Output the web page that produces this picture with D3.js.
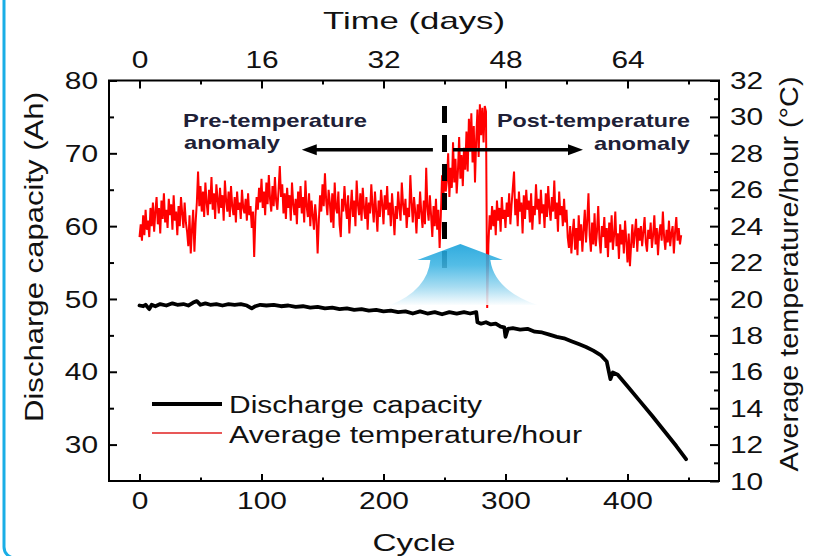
<!DOCTYPE html>
<html><head><meta charset="utf-8">
<script src="https://cdn.jsdelivr.net/npm/d3@7"></script>
<style>
html,body{margin:0;padding:0;background:#fff;}
svg{display:block;font-family:"Liberation Sans",Arial,Helvetica,sans-serif;}
</style></head><body>
<svg id="chart" width="819" height="556"></svg>
<script>
// ---------------- data ----------------
const cycleTicks = [0, 100, 200, 300, 400];
const cycleMinorTicks = [50, 150, 250, 350, 450];
const dayTicks = [0, 16, 32, 48, 64];
const dayMinorTicks = [8, 24, 40, 56, 72];
const capTicks = [30, 40, 50, 60, 70, 80];
const capMinorTicks = [35, 45, 55, 65, 75];
const tempTicks = [10, 12, 14, 16, 18, 20, 22, 24, 26, 28, 30, 32];
const tempMinorTicks = [11, 13, 15, 17, 19, 21, 23, 25, 27, 29, 31];

const capCycles = [0,3,5,8,10,13,17,22,27,31,36,40,44,47,50,54,58,63,68,73,78,83,88,92,95,99,104,110,116,122,128,134,140,146,152,158,164,170,176,182,188,194,200,206,212,218,224,230,236,242,248,254,260,266,271,276,277,280,284,288,292,296,299,300,302,306,312,318,324,330,336,342,348,354,360,366,372,378,383,386,388,392,400,410,420,430,440,448];
const capValues = [49.1,49.0,49.2,48.6,49.2,49.0,49.3,49.1,49.4,49.2,49.3,49.1,49.5,49.7,49.2,49.4,49.2,49.3,49.1,49.3,49.2,49.3,49.1,48.7,49.0,49.2,49.1,49.2,49.0,49.1,48.9,49.0,48.8,48.9,48.7,48.8,48.6,48.7,48.5,48.6,48.4,48.5,48.3,48.4,48.2,48.3,48.0,48.3,48.0,48.2,47.9,48.2,48.0,48.2,48.0,48.2,46.8,46.6,46.8,46.5,46.6,46.2,46.1,44.8,45.9,46.0,45.8,45.9,45.5,45.4,45.1,44.8,44.6,44.2,43.8,43.4,42.9,42.3,41.4,39.0,39.9,39.6,38.0,36.0,34.0,31.9,29.8,28.0];

// average temperature per hour, one reading per cycle from cycle 0 to cycle 444
const tempFirstCycle = 0;
const tempLastCycle = 444;
const tempValues = [
23.4,24.1,23.2,24.6,23.5,24.9,23.8,24.3,23.4,25.0,
24.0,25.3,23.7,24.8,25.6,24.1,25.0,23.6,25.4,24.4,25.8,24.2,24.9,23.9,25.5,24.6,25.2,23.8,25.7,24.3,24.8,23.5,25.1,24.0,25.6,24.7,23.9,25.3,24.2,23.7,
22.9,24.6,22.5,23.8,24.9,22.6,24.2,25.3,
27.0,
25.1,26.2,24.8,25.9,24.5,26.4,25.3,24.6,26.0,25.2,26.7,24.9,25.8,24.4,26.3,25.5,24.7,26.1,25.0,25.7,24.3,26.5,25.4,24.8,25.9,24.5,26.2,25.1,24.6,25.6,24.2,25.9,24.9,25.3,24.4,26.0,25.0,24.7,25.5,24.3,25.8,24.6,25.1,23.9,24.8,
22.3,
24.5,25.6,24.9,26.1,25.3,26.6,25.0,25.9,24.6,26.4,25.2,26.8,25.5,24.8,26.2,25.1,26.7,25.4,24.9,26.0,27.3,25.6,26.3,24.7,25.8,24.4,26.1,25.0,25.7,24.3,26.4,25.2,24.6,25.5,24.1,25.9,
25.0,26.2,24.7,25.6,24.2,26.5,25.1,24.5,25.8,24.0,25.4,24.6,23.8,25.2,24.4,
22.5,
24.3,25.7,24.8,26.3,25.1,26.9,25.4,24.6,26.0,25.3,24.2,25.8,23.9,26.4,25.0,24.7,25.9,24.1,23.4,25.5,
24.8,26.2,25.1,24.4,25.7,23.6,24.9,26.0,24.5,25.4,24.0,26.5,25.2,24.6,25.8,24.3,26.1,25.0,24.4,25.6,
23.8,25.3,24.7,26.3,25.1,24.2,25.9,24.8,23.7,25.4,24.5,26.0,25.2,24.1,25.7,24.9,26.2,24.6,25.3,24.0,
25.8,24.7,23.5,25.1,24.4,25.9,25.0,24.3,26.4,25.2,24.6,25.5,23.9,25.0,24.5,26.8,25.3,24.2,25.6,24.8,
23.6,25.2,24.4,25.9,24.7,23.9,25.4,24.1,27.2,25.0,24.3,25.7,24.6,23.4,25.1,24.0,25.5,23.8,24.9,
22.8,
24.6,26.8,25.3,27.4,25.9,26.5,28.0,25.6,27.2,26.1,28.6,26.4,27.7,25.8,27.0,28.9,26.6,27.9,26.2,28.3,27.1,
29.2,27.0,29.9,28.1,30.2,27.5,29.5,26.4,28.8,30.4,27.8,30.7,29.0,30.5,28.6,30.6,30.3,
19.5,
23.0,24.6,23.8,25.1,24.0,24.9,23.5,25.4,24.3,25.0,23.7,25.6,24.4,24.9,23.9,25.3,24.5,25.8,24.1,25.2,
26.1,27.0,24.6,25.5,24.0,25.9,24.8,25.3,23.6,25.7,24.4,26.0,24.9,25.4,24.2,25.8,23.8,25.1,24.6,26.3,
24.9,25.5,24.1,26.0,24.7,25.2,23.9,25.8,24.5,26.2,25.0,24.3,25.6,24.8,26.5,24.4,25.3,23.7,25.9,24.6,
25.1,24.0,25.5,24.2,24.9,23.4,
22.8,24.0,22.5,23.6,24.4,22.7,23.9,22.4,24.6,23.2,24.1,22.6,23.8,24.9,23.1,24.3,25.8,23.5,22.6,24.2,
23.0,24.7,22.9,23.7,25.1,23.3,22.5,24.0,23.4,24.5,22.8,23.9,22.3,24.2,23.1,24.6,22.7,23.5,24.8,22.9,
23.6,22.2,24.1,23.0,23.8,22.5,24.3,23.2,22.0,23.6,21.8,
23.0,24.1,22.8,23.6,24.4,22.6,23.9,23.2,24.0,22.9,23.7,24.5,23.1,22.6,23.8,23.3,24.2,22.8,23.5,24.6,
23.0,23.9,22.4,23.6,24.1,23.2,24.8,23.4,22.7,23.8,23.1,24.3,22.9,23.6,24.0,22.5,23.7,24.5,23.2,23.9,
23.0,23.5
];

const anomalyCycle = 250;
const legendLabels = ["Discharge capacity", "Average temperature/hour"];

// ---------------- layout ----------------
const svg = d3.select('#chart');
const L = 109, R = 719, T = 80.5, B = 481;
const SX = 1.3; // horizontal glyph stretch of the original figure

const x = d3.scaleLinear().domain([-25, 475]).range([L, R]);
const xd = d3.scaleLinear().domain([-4, 76]).range([L, R]);
const yC = d3.scaleLinear().domain([25, 80]).range([B, T]);
const yT = d3.scaleLinear().domain([10, 32]).range([B, T]);

// outer cyan frame
svg.append('rect').attr('x', 4).attr('y', -40).attr('width', 900).attr('height', 598)
  .attr('rx', 11).attr('fill', 'none').attr('stroke', '#1aaee6').attr('stroke-width', 3);

// data lines
const tempData = tempValues.map((v, i) => ({
  c: tempFirstCycle + i * (tempLastCycle - tempFirstCycle) / (tempValues.length - 1), v }));
svg.append('path').datum(tempData)
  .attr('fill', 'none').attr('stroke', '#ff0000').attr('stroke-width', 2)
  .attr('stroke-linejoin', 'miter')
  .attr('d', d3.line().x(d => x(d.c)).y(d => yT(d.v)));

const capData = capCycles.map((c, i) => ({ c, v: capValues[i] }));
svg.append('path').datum(capData)
  .attr('fill', 'none').attr('stroke', '#000').attr('stroke-width', 3.8)
  .attr('stroke-linejoin', 'round').attr('stroke-linecap', 'round')
  .attr('d', d3.line().x(d => x(d.c)).y(d => yC(d.v)));

// dashed anomaly line
svg.append('line')
  .attr('x1', x(anomalyCycle)).attr('x2', x(anomalyCycle))
  .attr('y1', yT(30.6)).attr('y2', yT(21.3))
  .attr('stroke', '#000').attr('stroke-width', 5).attr('stroke-dasharray', '17 12');

// blue up arrow
const defs = svg.append('defs');
const grad = defs.append('linearGradient').attr('id', 'blueGrad')
  .attr('gradientUnits', 'userSpaceOnUse')
  .attr('x1', 0).attr('x2', 0).attr('y1', 243).attr('y2', 306);
grad.append('stop').attr('offset', 0).attr('stop-color', '#139fd9');
grad.append('stop').attr('offset', 0.35).attr('stop-color', '#3cb4e3');
grad.append('stop').attr('offset', 0.7).attr('stop-color', '#9cd8f0');
grad.append('stop').attr('offset', 1).attr('stop-color', '#ffffff');
const ax = x(263); // arrow centre
const arrowPath = `M${ax} 244 L${ax + 42.5} 260 L${ax + 30} 260 Q${ax + 34} 290 ${ax + 77} 305 `
  + `L${ax - 70} 305 Q${ax - 33} 290 ${ax - 30} 260 L${ax - 43} 260 Z`;
svg.append('path').attr('d', arrowPath).attr('fill', 'url(#blueGrad)').attr('opacity', 0.88);

// frame
svg.append('rect').attr('x', L).attr('y', T).attr('width', R - L).attr('height', B - T)
  .attr('fill', 'none').attr('stroke', '#000').attr('stroke-width', 2);

// axes
function drawAxis(makeGen, scale, tr, major, minor, majLen, minLen, textFn) {
  const gMin = svg.append('g').attr('transform', tr)
    .call(makeGen(scale).tickValues(minor).tickSize(-minLen).tickFormat(''));
  const gMaj = svg.append('g').attr('transform', tr)
    .call(makeGen(scale).tickValues(major).tickSize(-majLen).tickFormat(d3.format('d')));
  [gMin, gMaj].forEach(g => {
    g.select('.domain').remove();
    g.selectAll('.tick line').attr('stroke', '#000').attr('stroke-width', 2);
  });
  const t = gMaj.selectAll('.tick text')
    .attr('font-size', 23).attr('fill', '#111')
    .attr('font-family', '"Liberation Sans",Arial,sans-serif')
    .attr('transform', `scale(${SX},1)`);
  textFn(t);
}
drawAxis(d3.axisBottom, x, `translate(0,${B})`, cycleTicks, cycleMinorTicks, 7, 3.5,
  t => t.attr('y', 28).attr('dy', 0));
drawAxis(d3.axisTop, xd, `translate(0,${T})`, dayTicks, dayMinorTicks, 8, 4,
  t => t.attr('y', -12.5).attr('dy', 0));
drawAxis(d3.axisLeft, yC, `translate(${L},0)`, capTicks, capMinorTicks, 8, 5,
  t => t.attr('x', -11 / SX).attr('dy', '0.35em'));
drawAxis(d3.axisRight, yT, `translate(${R},0)`, tempTicks, tempMinorTicks, 9, 5,
  t => t.attr('x', 11 / SX).attr('dy', '0.35em'));

// axis titles
function title(txt, tx, ty, rot, len, size) {
  svg.append('text').text(txt)
    .attr('transform', `translate(${tx},${ty})` + (rot ? ` rotate(${rot})` : ''))
    .attr('text-anchor', 'middle').attr('font-size', size).attr('fill', '#111')
    .attr('textLength', len).attr('lengthAdjust', 'spacingAndGlyphs');
}
title('Time (days)', 414, 29, 0, 182, 24);
title('Cycle', 414, 551, 0, 83, 24);
title('Discharge capacity (Ah)', 42.5, 257, -90, 330, 25);
title('Average temperature/hour (°C)', 798, 274, -90, 395, 25);

// legend
svg.append('line').attr('x1', 152).attr('x2', 222).attr('y1', 404).attr('y2', 404)
  .attr('stroke', '#000').attr('stroke-width', 4);
svg.append('line').attr('x1', 152).attr('x2', 222).attr('y1', 433).attr('y2', 433)
  .attr('stroke', '#e02020').attr('stroke-width', 1.5);
[[legendLabels[0], 413, 253], [legendLabels[1], 443, 353]].forEach(([s, yy, len]) => {
  svg.append('text').text(s).attr('x', 229).attr('y', yy)
    .attr('font-size', 23.5).attr('fill', '#111')
    .attr('textLength', len).attr('lengthAdjust', 'spacingAndGlyphs');
});

// annotations
function note(txt, tx, ty, len) {
  svg.append('text').text(txt).attr('x', tx).attr('y', ty)
    .attr('font-size', 18.5).attr('font-weight', 'bold').attr('fill', '#202036')
    .attr('textLength', len).attr('lengthAdjust', 'spacingAndGlyphs');
}
note('Pre-temperature', 183, 127, 184);
note('anomaly', 184, 149, 96);
note('Post-temperature', 497, 127, 193);
note('anomaly', 594, 150, 96);

const arrowY = yT(28.2);
function arrow(c0, c1) {
  const x0 = x(c0), x1 = x(c1);
  const dir = Math.sign(x1 - x0);
  svg.append('line').attr('x1', x0).attr('x2', x1 - dir * 12).attr('y1', arrowY).attr('y2', arrowY)
    .attr('stroke', '#000').attr('stroke-width', 3.5);
  svg.append('path')
    .attr('d', `M${x1} ${arrowY} L${x1 - dir * 15} ${arrowY - 5.5} L${x1 - dir * 15} ${arrowY + 5.5} Z`)
    .attr('fill', '#000');
}
arrow(240.5, 133);
arrow(257, 363.5);
</script>
</body></html>
